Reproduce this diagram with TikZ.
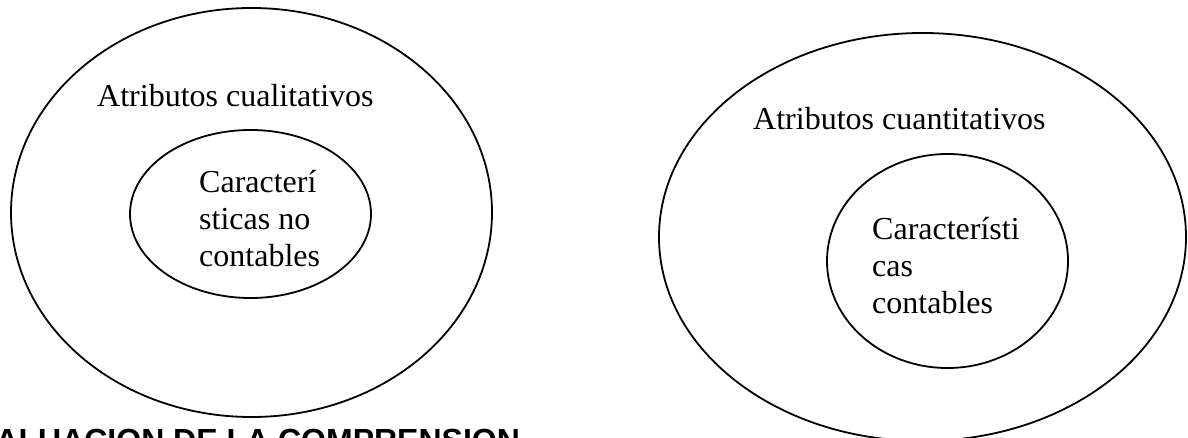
\documentclass[tikz,border=0pt]{standalone}
\usepackage{fontspec}
\setmainfont{Liberation Serif}
\newfontfamily\headfont{Liberation Sans}
\usepackage{tikz}
\usetikzlibrary{positioning,shapes.geometric}
\definecolor{inkBlack}{HTML}{000000}

\tikzset{
  ring/.style={draw=inkBlack,ellipse,line width=1.8pt,inner sep=0pt},
  setText/.style={inkBlack,inner sep=0pt,anchor=base west,align=left,font=\fontsize{32}{37}\selectfont},
}

\begin{document}
\begin{tikzpicture}[x=1pt,y=-1pt]
  \useasboundingbox (0,0) rectangle (1188,438);
  \clip (0,0) rectangle (1188,438);
  % sketch: two nested sets
  \node[ring,minimum width=481pt,minimum height=409pt] (qualOuter) at (251.5,212.5) {};
  \node[ring,minimum width=241pt,minimum height=168pt] (qualInner) at (250.5,214) {};
  \node[ring,minimum width=527pt,minimum height=408pt] (cuantOuter) at (922.5,237) {};
  \node[ring,minimum width=241pt,minimum height=214pt] (cuantInner) at (947.5,261) {};
  \node[setText] (qualLabel) at (97,107) {Atributos cualitativos};
  \node[setText] (qualText) at (199,267) {Caracterí\\sticas no\\contables};
  \node[setText] (cuantLabel) at (753,130) {Atributos cuantitativos};
  \node[setText] (cuantText) at (872,313) {Característi\\cas\\contables};
  \node[inkBlack,inner sep=0pt,anchor=base west,font=\headfont\bfseries\fontsize{32}{37}\selectfont] (evalTitle) at (-45,451) {EVALUACION DE LA COMPRENSION};
\end{tikzpicture}
\end{document}
